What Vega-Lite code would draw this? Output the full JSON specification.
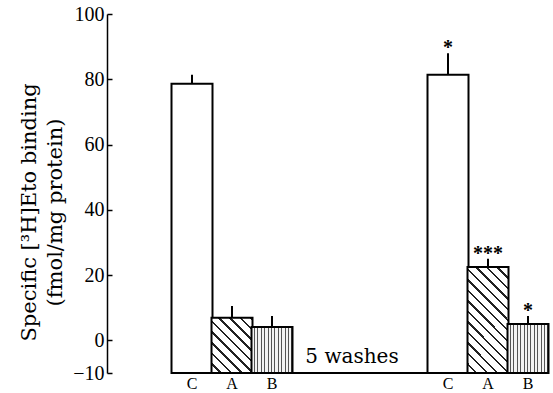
{
  "$schema": "https://vega.github.io/schema/vega-lite/v6.json",
  "width": 446,
  "height": 359,
  "autosize": "none",
  "padding": {"left": 107, "top": 14, "right": 0, "bottom": 20},
  "background": "white",
  "config": {"view": {"stroke": null}, "font": "Liberation Serif"},
  "datasets": {
    "bars": [
      {"grp": "before", "cond": "C", "id": "C1", "pos": 2, "mean": 78.6, "hi": 81.4, "star": ""},
      {"grp": "before", "cond": "A", "id": "A1", "pos": 3, "mean": 6.9, "hi": 10.5, "star": ""},
      {"grp": "before", "cond": "B", "id": "B1", "pos": 4, "mean": 4.1, "hi": 7.5, "star": ""},
      {"grp": "after", "cond": "C", "id": "C2", "pos": 8.4, "mean": 81.4, "hi": 88, "star": "*"},
      {"grp": "after", "cond": "A", "id": "A2", "pos": 9.4, "mean": 22.5, "hi": 25, "star": "***"},
      {"grp": "after", "cond": "B", "id": "B2", "pos": 10.4, "mean": 5.0, "hi": 7.5, "star": "*"}
    ],
    "notes": [{"label": "5 washes", "pos": 6.0, "y": -10}]
  },
  "data": {"name": "bars"},
  "encoding": {
    "x": {"field": "pos", "type": "quantitative", "scale": {"domain": [0, 10.9]}, "axis": null},
    "y": {"field": "mean", "type": "quantitative", "scale": {"domain": [-10, 100], "nice": false, "zero": false},
      "axis": {
        "values": [-10, 0, 20, 40, 60, 80, 100],
        "grid": false,
        "tickSize": -5,
        "labelPadding": 8,
        "domainColor": "black",
        "domainWidth": 1.5,
        "tickColor": "black",
        "tickWidth": 1.5,
        "labelColor": "black",
        "labelFont": "Liberation Serif",
        "labelFontSize": 20,
        "title": ["Specific [³H]Eto binding", "(fmol/mg protein)"],
        "titleFont": "DejaVu Serif",
        "titleFontSize": 21,
        "titleFontWeight": "normal",
        "titleColor": "black",
        "titleAngle": -90,
        "titleX": -89,
        "titleY": 198,
        "titleAlign": "center",
        "titleBaseline": "top",
        "titleLineHeight": 26
      }
    }
  },
  "layer": [
    {
      "transform": [{"filter": "datum.cond === 'C'"}],
      "mark": {"type": "bar", "width": 41, "fill": "white", "stroke": "black", "strokeWidth": 2},
      "encoding": {"y2": {"datum": -10}}
    },
    {
      "transform": [{"filter": "datum.id === 'A1'"}],
      "mark": {"type": "bar", "width": 41, "stroke": "black", "strokeWidth": 2,
        "fill": {"gradient": "linear", "x1": 0, "y1": 1, "x2": 0.836, "y2": -0.122, "stops": [
          {"offset": 0, "color": "#ffffff"}, {"offset": 0.0833, "color": "#ffffff"}, {"offset": 0.0833, "color": "#222222"}, {"offset": 0.1111, "color": "#222222"},
          {"offset": 0.1111, "color": "#ffffff"}, {"offset": 0.1944, "color": "#ffffff"}, {"offset": 0.1944, "color": "#222222"}, {"offset": 0.2222, "color": "#222222"},
          {"offset": 0.2222, "color": "#ffffff"}, {"offset": 0.3056, "color": "#ffffff"}, {"offset": 0.3056, "color": "#222222"}, {"offset": 0.3333, "color": "#222222"},
          {"offset": 0.3333, "color": "#ffffff"}, {"offset": 0.4167, "color": "#ffffff"}, {"offset": 0.4167, "color": "#222222"}, {"offset": 0.4444, "color": "#222222"},
          {"offset": 0.4444, "color": "#ffffff"}, {"offset": 0.5278, "color": "#ffffff"}, {"offset": 0.5278, "color": "#222222"}, {"offset": 0.5556, "color": "#222222"},
          {"offset": 0.5556, "color": "#ffffff"}, {"offset": 0.6389, "color": "#ffffff"}, {"offset": 0.6389, "color": "#222222"}, {"offset": 0.6667, "color": "#222222"},
          {"offset": 0.6667, "color": "#ffffff"}, {"offset": 0.75, "color": "#ffffff"}, {"offset": 0.75, "color": "#222222"}, {"offset": 0.7778, "color": "#222222"},
          {"offset": 0.7778, "color": "#ffffff"}, {"offset": 0.8611, "color": "#ffffff"}, {"offset": 0.8611, "color": "#222222"}, {"offset": 0.8889, "color": "#222222"},
          {"offset": 0.8889, "color": "#ffffff"}, {"offset": 0.9722, "color": "#ffffff"}, {"offset": 0.9722, "color": "#222222"}, {"offset": 1, "color": "#222222"}
        ]}},
      "encoding": {"y2": {"datum": -10}}
    },
    {
      "transform": [{"filter": "datum.id === 'A2'"}],
      "mark": {"type": "bar", "width": 41, "stroke": "black", "strokeWidth": 2,
        "fill": {"gradient": "linear", "x1": 0, "y1": 1, "x2": 0.467, "y2": -0.206, "stops": [
          {"offset": 0, "color": "#ffffff"}, {"offset": 0.0557, "color": "#ffffff"}, {"offset": 0.0557, "color": "#222222"}, {"offset": 0.0714, "color": "#222222"},
          {"offset": 0.0714, "color": "#ffffff"}, {"offset": 0.1271, "color": "#ffffff"}, {"offset": 0.1271, "color": "#222222"}, {"offset": 0.1429, "color": "#222222"},
          {"offset": 0.1429, "color": "#ffffff"}, {"offset": 0.1986, "color": "#ffffff"}, {"offset": 0.1986, "color": "#222222"}, {"offset": 0.2143, "color": "#222222"},
          {"offset": 0.2143, "color": "#ffffff"}, {"offset": 0.27, "color": "#ffffff"}, {"offset": 0.27, "color": "#222222"}, {"offset": 0.2857, "color": "#222222"},
          {"offset": 0.2857, "color": "#ffffff"}, {"offset": 0.3414, "color": "#ffffff"}, {"offset": 0.3414, "color": "#222222"}, {"offset": 0.3571, "color": "#222222"},
          {"offset": 0.3571, "color": "#ffffff"}, {"offset": 0.4129, "color": "#ffffff"}, {"offset": 0.4129, "color": "#222222"}, {"offset": 0.4286, "color": "#222222"},
          {"offset": 0.4286, "color": "#ffffff"}, {"offset": 0.4843, "color": "#ffffff"}, {"offset": 0.4843, "color": "#222222"}, {"offset": 0.5, "color": "#222222"},
          {"offset": 0.5, "color": "#ffffff"}, {"offset": 0.5557, "color": "#ffffff"}, {"offset": 0.5557, "color": "#222222"}, {"offset": 0.5714, "color": "#222222"},
          {"offset": 0.5714, "color": "#ffffff"}, {"offset": 0.6271, "color": "#ffffff"}, {"offset": 0.6271, "color": "#222222"}, {"offset": 0.6429, "color": "#222222"},
          {"offset": 0.6429, "color": "#ffffff"}, {"offset": 0.6986, "color": "#ffffff"}, {"offset": 0.6986, "color": "#222222"}, {"offset": 0.7143, "color": "#222222"},
          {"offset": 0.7143, "color": "#ffffff"}, {"offset": 0.77, "color": "#ffffff"}, {"offset": 0.77, "color": "#222222"}, {"offset": 0.7857, "color": "#222222"},
          {"offset": 0.7857, "color": "#ffffff"}, {"offset": 0.8414, "color": "#ffffff"}, {"offset": 0.8414, "color": "#222222"}, {"offset": 0.8571, "color": "#222222"},
          {"offset": 0.8571, "color": "#ffffff"}, {"offset": 0.9129, "color": "#ffffff"}, {"offset": 0.9129, "color": "#222222"}, {"offset": 0.9286, "color": "#222222"},
          {"offset": 0.9286, "color": "#ffffff"}, {"offset": 0.9843, "color": "#ffffff"}, {"offset": 0.9843, "color": "#222222"}, {"offset": 1, "color": "#222222"}
        ]}},
      "encoding": {"y2": {"datum": -10}}
    },
    {
      "transform": [{"filter": "datum.cond === 'B'"}],
      "mark": {"type": "bar", "width": 41, "stroke": "black", "strokeWidth": 2,
        "fill": {"gradient": "linear", "x1": 0, "y1": 0, "x2": 1, "y2": 0, "stops": [
          {"offset": 0, "color": "#f4f4f4"}, {"offset": 0.058, "color": "#f4f4f4"}, {"offset": 0.058, "color": "#555555"}, {"offset": 0.0833, "color": "#555555"},
          {"offset": 0.0833, "color": "#f4f4f4"}, {"offset": 0.1417, "color": "#f4f4f4"}, {"offset": 0.1417, "color": "#555555"}, {"offset": 0.1667, "color": "#555555"},
          {"offset": 0.1667, "color": "#f4f4f4"}, {"offset": 0.225, "color": "#f4f4f4"}, {"offset": 0.225, "color": "#555555"}, {"offset": 0.25, "color": "#555555"},
          {"offset": 0.25, "color": "#f4f4f4"}, {"offset": 0.3083, "color": "#f4f4f4"}, {"offset": 0.3083, "color": "#555555"}, {"offset": 0.3333, "color": "#555555"},
          {"offset": 0.3333, "color": "#f4f4f4"}, {"offset": 0.3917, "color": "#f4f4f4"}, {"offset": 0.3917, "color": "#555555"}, {"offset": 0.4167, "color": "#555555"},
          {"offset": 0.4167, "color": "#f4f4f4"}, {"offset": 0.475, "color": "#f4f4f4"}, {"offset": 0.475, "color": "#555555"}, {"offset": 0.5, "color": "#555555"},
          {"offset": 0.5, "color": "#f4f4f4"}, {"offset": 0.5583, "color": "#f4f4f4"}, {"offset": 0.5583, "color": "#555555"}, {"offset": 0.5833, "color": "#555555"},
          {"offset": 0.5833, "color": "#f4f4f4"}, {"offset": 0.6417, "color": "#f4f4f4"}, {"offset": 0.6417, "color": "#555555"}, {"offset": 0.6667, "color": "#555555"},
          {"offset": 0.6667, "color": "#f4f4f4"}, {"offset": 0.725, "color": "#f4f4f4"}, {"offset": 0.725, "color": "#555555"}, {"offset": 0.75, "color": "#555555"},
          {"offset": 0.75, "color": "#f4f4f4"}, {"offset": 0.8083, "color": "#f4f4f4"}, {"offset": 0.8083, "color": "#555555"}, {"offset": 0.8333, "color": "#555555"},
          {"offset": 0.8333, "color": "#f4f4f4"}, {"offset": 0.8917, "color": "#f4f4f4"}, {"offset": 0.8917, "color": "#555555"}, {"offset": 0.9167, "color": "#555555"},
          {"offset": 0.9167, "color": "#f4f4f4"}, {"offset": 0.975, "color": "#f4f4f4"}, {"offset": 0.975, "color": "#555555"}, {"offset": 1, "color": "#555555"}
        ]}},
      "encoding": {"y2": {"datum": -10}}
    },
    {
      "mark": {"type": "rule", "color": "black", "strokeWidth": 2},
      "encoding": {"y2": {"field": "hi"}}
    },
    {
      "mark": {"type": "text", "font": "Liberation Serif", "fontSize": 20, "fontWeight": "bold", "baseline": "alphabetic", "align": "center", "dy": 1, "color": "black"},
      "encoding": {"y": {"field": "hi", "type": "quantitative"}, "text": {"field": "star"}}
    },
    {
      "mark": {"type": "text", "font": "Liberation Serif", "fontSize": 16, "baseline": "alphabetic", "align": "center", "dy": 16, "color": "black"},
      "encoding": {"y": {"datum": -10}, "text": {"field": "cond"}}
    },
    {
      "mark": {"type": "rule", "color": "black", "strokeWidth": 1.5},
      "encoding": {"x": {"datum": 1.5}, "x2": {"datum": 10.9}, "y": {"datum": -10}}
    },
    {
      "data": {"name": "notes"},
      "mark": {"type": "text", "font": "DejaVu Serif", "fontSize": 20, "baseline": "alphabetic", "align": "center", "dy": -10, "color": "black"},
      "encoding": {"x": {"field": "pos", "type": "quantitative"}, "y": {"field": "y", "type": "quantitative"}, "text": {"field": "label"}}
    }
  ]
}
